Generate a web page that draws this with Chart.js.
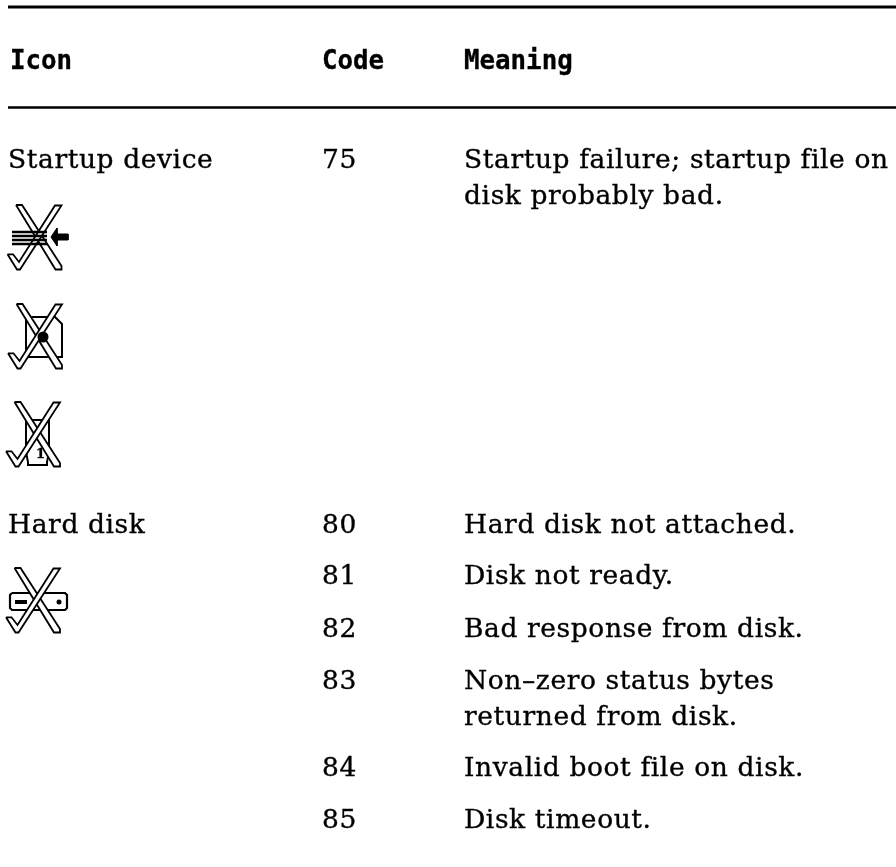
<!DOCTYPE html>
<html><head><meta charset="utf-8">
<style>html,body{margin:0;padding:0;background:#fff}canvas{display:block}</style>
<script src="https://cdn.jsdelivr.net/npm/chart.js@4/dist/chart.umd.min.js"></script>
</head><body><canvas id="c" width="896" height="867"></canvas>
<script>
const headers = ['Icon','Code','Meaning'];
const iconNames = ['Startup device','Hard disk'];
const codes = ['75','80','81','82','83','84','85'];
const meanings = [
  ['Startup failure; startup file on','disk probably bad.'],
  ['Hard disk not attached.'],
  ['Disk not ready.'],
  ['Bad response from disk.'],
  ['Non\u2013zero status bytes','returned from disk.'],
  ['Invalid boot file on disk.'],
  ['Disk timeout.']
];
// layout (page coordinates)
const headerBaseline = 69;
const columnX = [8,322,464];
const headerX = [10,322,464];
const rowBaselines = [168,533,584,637,689,776,828];
const lineStep = 35.5;
const iconNameRows = [0,1];
const ruleYs = [7,107.5];
const ruleWidths = [3.2,2.5];
const ruleStart = 8, ruleEnd = 896;

// X + check overlay, relative to each icon's origin
const checkOutline = [[0,49.3],[5.5,49.3],[11.5,57],[47.5,0.5],[54,0.5],[12.5,64.5],[9.5,64.5],[0,49.3]];
const slashOutline = [[8.5,0],[14.5,0],[54,61],[54,64.5],[48,64.5],[8.5,0]];
const iconOrigins = [[7.5,205],[8,304],[6,402],[6,568]];

// icon bodies in page coordinates: [points, line width]
const startupLines = [
  [[[12,232],[47,232]],2.4],[[[12,236],[47,236]],2.4],[[[12,240],[47,240]],2.4],[[[12,244],[47,244]],2.4]
];
const arrowShape = [[51,237],[57,228],[57,234],[68,234],[68,240],[57,240],[57,246],[51,237]];
const floppyShape = [[26,317],[55,317],[62,324],[62,357],[26,357],[26,317]];
const floppyHole = [[43,337]];
const cardShape = [[26,420],[49,420],[49,452],[47,462],[47,465],[28,465],[28,462],[26,452],[26,420]];
const driveShape = [[12,593],[65,593],[67,595],[67,608],[65,610],[12,610],[10,608],[10,595],[12,593]];
const driveSlot = [[15,602],[27,602]];
const driveLight = [[59,602]];
const cardLabel = '1';

const xy = a => a.map(p => ({x:p[0],y:p[1]}));
const at = (o,a) => a.map(p => ({x:o[0]+p[0],y:o[1]+p[1]}));
const ds = [];
const line = (data,w,extra) => ds.push(Object.assign({data,showLine:true,borderColor:'#000',borderWidth:w,pointRadius:0,tension:0,fill:false,spanGaps:true},extra||{}));
const shape = (data,w,fillColor) => line(data,w,{fill:'shape',backgroundColor:fillColor});
const dot = (data,r) => ds.push({data,showLine:false,pointRadius:r,pointBackgroundColor:'#000',pointBorderWidth:0});

ruleYs.forEach((y,i)=>line(xy([[ruleStart,y],[ruleEnd,y]]),ruleWidths[i]));
// icon bodies
shape(xy(arrowShape),1,'#000');
shape(xy(floppyShape),2,'#fff');
shape(xy(cardShape),2,'#fff');
shape(xy(driveShape),2.2,'#fff');
line(xy(driveSlot),4);
dot(xy(driveLight),2.5);
// X overlays
iconOrigins.forEach(o=>{
  shape(at(o,slashOutline),1.8,'#fff');
  shape(at(o,checkOutline),1.8,'#fff');
});
startupLines.forEach(l=>line(xy(l[0]),l[1]));
dot(xy(floppyHole),5.5);
ds.forEach((d,i)=>d.order=ds.length-i);

const tablePlugin = {
  id:'tableText',
  afterDatasetsDraw(chart){
    const {ctx,scales:{x,y}} = chart;
    const put = (t,px,py) => {
      const a = x.getPixelForValue(px), b = y.getPixelForValue(py);
      ctx.fillText(t,a,b);
      ctx.strokeText(t,a,b);
    };
    ctx.save();
    ctx.fillStyle='#000';
    ctx.strokeStyle='#000';
    ctx.lineWidth=0.35;
    ctx.textBaseline='alphabetic';
    ctx.textAlign='left';
    ctx.font='bold 25.8px "DejaVu Sans Mono"';
    headers.forEach((h,i)=>put(h,headerX[i],headerBaseline));
    ctx.font='26.5px "DejaVu Serif"';
    ctx.letterSpacing='0.6px';
    iconNames.forEach((n,i)=>put(n,columnX[0],rowBaselines[iconNameRows[i]]));
    codes.forEach((c,i)=>put(c,columnX[1],rowBaselines[i]));
    meanings.forEach((m,i)=>m.forEach((t,j)=>put(t,columnX[2],rowBaselines[i]+j*lineStep)));
    ctx.letterSpacing='0px';
    ctx.font='bold 13px "DejaVu Serif"';
    put(cardLabel,36,458);
    ctx.restore();
  }
};

new Chart(document.getElementById('c'),{
  type:'scatter',
  data:{datasets:ds},
  options:{
    responsive:false,animation:false,
    layout:{padding:0,autoPadding:false},
    plugins:{legend:{display:false},tooltip:{enabled:false},title:{display:false}},
    scales:{
      x:{type:'linear',min:0,max:896,display:false},
      y:{type:'linear',min:0,max:867,reverse:true,display:false}
    }
  },
  plugins:[tablePlugin]
});
</script></body></html>
